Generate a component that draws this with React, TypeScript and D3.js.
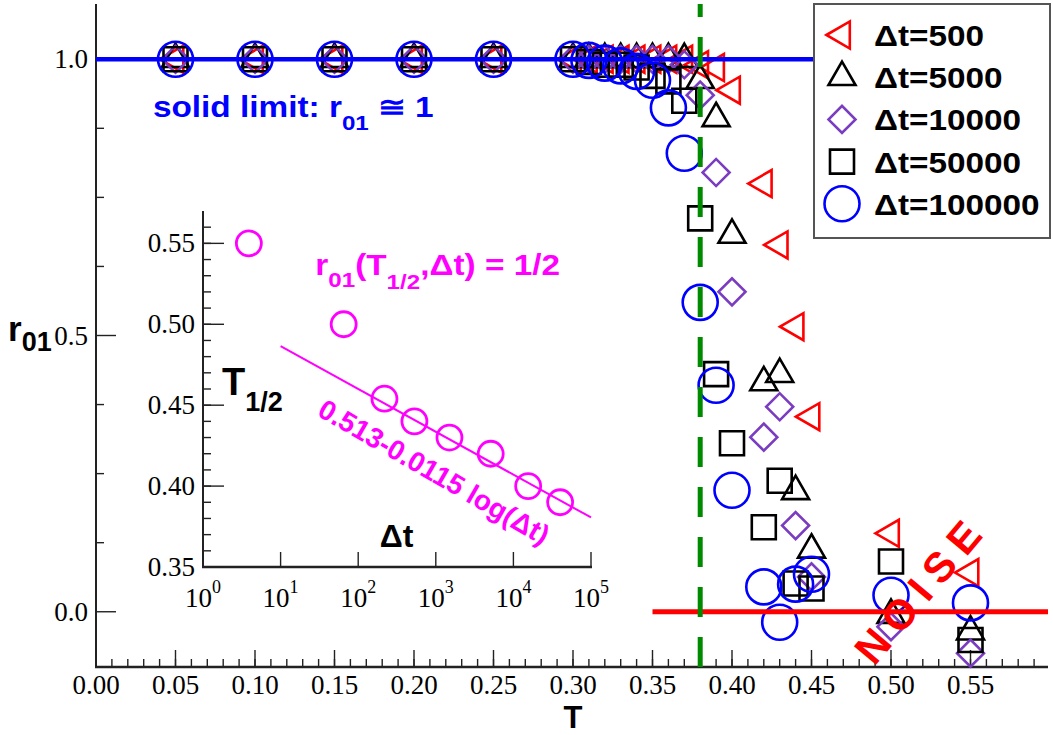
import * as d3 from "d3";

// main panel: r01 vs T, one series per waiting time
const temps = [0.05, 0.10, 0.15, 0.20, 0.25, 0.30, 0.31, 0.32, 0.33, 0.34, 0.35, 0.36, 0.37, 0.38, 0.39, 0.40, 0.42, 0.43, 0.44, 0.45, 0.50, 0.55];
const r500 = [1, 1, 1, 1, 1, 1, 1, 1, 1, 1, 1, 1, 1, 0.99, 0.985, 0.944, 0.775, 0.664, 0.516, 0.353, 0.142, 0.071];
const r5000 = [1, 1, 1, 1, 1, 1, 1, 1, 1, 1, 1, 1, 1, 0.962, 0.893, 0.682, 0.415, 0.43, 0.218, 0.112, -0.006, -0.036];
const r10000 = [1, 1, 1, 1, 1, 1, 1, 1, 1, 1, 1, 1, 0.99, 0.935, 0.795, 0.579, 0.316, 0.371, 0.156, 0.063, -0.027, -0.075];
const r50000 = [1, 1, 1, 1, 1, 1, 0.995, 0.99, 0.99, 0.985, 0.97, 0.96, 0.925, 0.712, 0.43, 0.305, 0.153, 0.237, 0.051, 0.042, 0.091, -0.051];
const r100000 = [1, 1, 1, 1, 1, 1, 0.998, 0.993, 0.988, 0.978, 0.962, 0.912, 0.83, 0.56, 0.41, 0.22, 0.045, -0.019, 0.05, 0.068, 0.03, 0.016];

const seriesLabels = ["\u0394t=500", "\u0394t=5000", "\u0394t=10000", "\u0394t=50000", "\u0394t=100000"];
const xTickLabels = ["0.00", "0.05", "0.10", "0.15", "0.20", "0.25", "0.30", "0.35", "0.40", "0.45", "0.50", "0.55"];
const yTickLabels = ["0.0", "0.5", "1.0"];

// inset: T_1/2 vs delta t
const insetDt = [3.9, 65, 218, 530, 1500, 5100, 15500, 40000];
const insetT = [0.55, 0.50, 0.454, 0.44, 0.43, 0.42, 0.40, 0.39];
const insetYTicks = ["0.35", "0.40", "0.45", "0.50", "0.55"];
const insetXExp = [0, 1, 2, 3, 4, 5];
const fitA = 0.513;
const fitB = 0.0115;
const fitRange = [10, 1e5];

const tSolid = 1.0;
const tNoise = 0.0;
const tCross = 0.38;

const SANS = "'Liberation Sans', Arial, Helvetica, sans-serif";
const SERIF = "'Liberation Serif', 'Times New Roman', serif";

const x = d3.scaleLinear().domain([0, 0.6]).range([96, 1050]);
const y = d3.scaleLinear().domain([-0.1, 1.1]).range([667, 4]);
const xi = d3.scaleLog().domain([1, 1e5]).range([203, 591]);
const yi = d3.scaleLinear().domain([0.35, 0.57]).range([567, 211]);

const styles = [
  { color: "#ff0000", kind: "left" },
  { color: "#000000", kind: "up" },
  { color: "#7a3cc0", kind: "diamond" },
  { color: "#000000", kind: "square" },
  { color: "#0000ff", kind: "circle" },
];
const seriesValues = [r500, r5000, r10000, r50000, r100000];

const triPath = d3.symbol(d3.symbolTriangle, 316)()!;
const sqPath = d3.symbol(d3.symbolSquare, 576)()!;
const diaPath = d3.symbol(d3.symbolSquare, 364)()!;

function Marker({ kind, cx, cy, color }: { kind: string; cx: number; cy: number; color: string }) {
  const common = { fill: "none", stroke: color, strokeWidth: 2.6 };
  if (kind === "circle") return <circle cx={cx} cy={cy} r={17.5} {...common} />;
  if (kind === "left") return <path d={triPath} transform={`translate(${cx},${cy}) rotate(-90)`} {...common} />;
  if (kind === "up") return <path d={triPath} transform={`translate(${cx},${cy})`} {...common} />;
  if (kind === "diamond") return <path d={diaPath} transform={`translate(${cx},${cy}) rotate(45)`} {...common} />;
  return <path d={sqPath} transform={`translate(${cx},${cy})`} {...common} />;
}

export default function App() {
  const xMinor = d3.range(1, 60).map(i => i / 100);
  const xMajor = d3.range(0, 12).map(i => i * 0.05);
  const yMinor = [0.125, 0.25, 0.375, 0.625, 0.75, 0.875];
  const yMajor = [0, 0.5, 1.0];
  const iyMinor = d3.range(0, 22).map(i => 0.35 + i * 0.01);
  const iyMajor = [0.35, 0.40, 0.45, 0.50, 0.55];

  const fitLine = d3.line<number>()
    .x(d => xi(d))
    .y(d => yi(fitA - fitB * Math.log(d)));

  return (
    <svg width={1053} height={735} style={{ position: "absolute", left: 0, top: 0, background: "#fff" }}>
      {/* main axes */}
      <line x1={x(0)} x2={x(0)} y1={y(1.1)} y2={y(-0.1) + 1} stroke="#222" strokeWidth={2} />
      <line x1={x(0) - 1} x2={1048} y1={y(-0.1)} y2={y(-0.1)} stroke="#222" strokeWidth={2.4} />
      {xMinor.map(v => (
        <line key={"xm" + v} x1={x(v)} x2={x(v)} y1={y(-0.1)} y2={y(-0.1) - 8} stroke="#222" strokeWidth={1.4} />
      ))}
      {xMajor.map(v => (
        <line key={"xM" + v} x1={x(v)} x2={x(v)} y1={y(-0.1)} y2={y(-0.1) - 17} stroke="#222" strokeWidth={1.4} />
      ))}
      {yMinor.map(v => (
        <line key={"ym" + v} x1={x(0)} x2={x(0) + 8} y1={y(v)} y2={y(v)} stroke="#222" strokeWidth={1.4} />
      ))}
      {yMajor.map(v => (
        <line key={"yM" + v} x1={x(0)} x2={x(0) + 20} y1={y(v)} y2={y(v)} stroke="#222" strokeWidth={1.4} />
      ))}
      {xTickLabels.map((t, i) => (
        <text key={"xl" + t} x={x(xMajor[i])} y={694} textAnchor="middle" fontFamily={SERIF} fontSize={27}>{t}</text>
      ))}
      {yTickLabels.map((t, i) => (
        <text key={"yl" + t} x={88} y={y(yMajor[i]) + 9} textAnchor="end" fontFamily={SERIF} fontSize={27}>{t}</text>
      ))}
      <text x={x(0.3)} y={728} textAnchor="middle" fontFamily={SANS} fontWeight="bold" fontSize={31}>T</text>
      <text x={8} y={341} fontFamily={SANS} fontWeight="bold" fontSize={35}>
        r<tspan fontSize={27} dy={10}>01</tspan>
      </text>

      {/* inset axes */}
      <line x1={xi(1)} x2={xi(1)} y1={yi(0.57)} y2={yi(0.35) + 1} stroke="#222" strokeWidth={2} />
      <line x1={xi(1) - 1} x2={xi(1e5) + 1} y1={yi(0.35)} y2={yi(0.35)} stroke="#222" strokeWidth={2.4} />
      {iyMinor.map(v => (
        <line key={"iym" + v} x1={xi(1)} x2={xi(1) + 8} y1={yi(v)} y2={yi(v)} stroke="#222" strokeWidth={1.4} />
      ))}
      {iyMajor.map(v => (
        <line key={"iyM" + v} x1={xi(1)} x2={xi(1) + 21} y1={yi(v)} y2={yi(v)} stroke="#222" strokeWidth={1.4} />
      ))}
      {insetXExp.map(e => (
        <line key={"ixM" + e} x1={xi(10 ** e)} x2={xi(10 ** e)} y1={yi(0.35)} y2={yi(0.35) - 15} stroke="#222" strokeWidth={1.4} />
      ))}
      {insetYTicks.map((t, i) => (
        <text key={"iyl" + t} x={195} y={yi(iyMajor[i]) + 9} textAnchor="end" fontFamily={SERIF} fontSize={27}>{t}</text>
      ))}
      {insetXExp.map(e => (
        <text key={"ixl" + e} x={xi(10 ** e)} y={607} textAnchor="middle" fontFamily={SERIF} fontSize={27}>
          10<tspan fontSize={18} dy={-14}>{e}</tspan>
        </text>
      ))}

      {/* inset data */}
      <path d={fitLine(fitRange)!} fill="none" stroke="#ff00ff" strokeWidth={2} />
      {insetDt.map((d, i) => (
        <circle key={"ic" + i} cx={xi(d)} cy={yi(insetT[i])} r={12.5} fill="none" stroke="#ff00ff" strokeWidth={2.8} />
      ))}
      <text transform={`translate(${xi(28)},${yi(0.5304)}) scale(1.15,1)`} fill="#ff00ff" fontFamily={SANS} fontWeight="bold" fontSize={29}>
        r<tspan fontSize={21} dy={12}>01</tspan>
        <tspan dy={-12}>(T</tspan>
        <tspan fontSize={21} dy={14}>1/2</tspan>
        <tspan dy={-14}>,{"\u0394"}t) = 1/2</tspan>
      </text>
      <text x={xi(1.76)} y={yi(0.4563)} fontFamily={SANS} fontWeight="bold" fontSize={38}>
        T<tspan fontSize={27} dy={16}>1/2</tspan>
      </text>
      <text x={xi(190)} y={yi(0.3624)} fontFamily={SANS} fontWeight="bold" fontSize={32}>{"\u0394"}t</text>
      <text
        transform={`translate(${xi(948)},${yi(0.4087)}) rotate(30)`}
        textAnchor="middle" dominantBaseline="central"
        fill="#ff00ff" fontFamily={SANS} fontWeight="bold" fontSize={28}
      >
        0.513-0.0115 log({"\u0394"}t)
      </text>

      {/* main data */}
      {seriesValues.map((vals, s) =>
        vals.map((v, i) => (
          <Marker key={`m${s}-${i}`} kind={styles[s].kind} color={styles[s].color} cx={x(temps[i])} cy={y(v)} />
        ))
      )}

      {/* reference lines */}
      <line x1={x(0)} x2={1048} y1={y(tSolid)} y2={y(tSolid)} stroke="#0000ff" strokeWidth={4.5} />
      <line x1={x(0.35)} x2={1048} y1={y(tNoise)} y2={y(tNoise)} stroke="#ff0000" strokeWidth={5} />
      <line x1={x(tCross)} x2={x(tCross)} y1={y(-0.1)} y2={y(1.1)} stroke="#008a00" strokeWidth={5} strokeDasharray="30 20" />

      <text transform={`translate(${x(0.0358)},${y(0.895)}) scale(1.15,1)`} fill="#0000ff" fontFamily={SANS} fontWeight="bold" fontSize={29}>
        solid limit: r<tspan fontSize={21} dy={13}>01</tspan>
        <tspan dy={-13}> {"\u2245"} 1</tspan>
      </text>
      <text
        transform={`translate(${x(0.519)},${y(0.042)}) rotate(-50)`}
        textAnchor="middle" dominantBaseline="central"
        fill="#ff0000" fontFamily={SANS} fontWeight="bold" fontSize={42} letterSpacing={10}
      >
        NOISE
      </text>

      {/* legend */}
      <rect x={814} y={4} width={236} height={234} fill="#fff" stroke="#555" strokeWidth={2} />
      {seriesLabels.map((lab, i) => {
        const cy = 35 + i * 42.2;
        return (
          <g key={"lg" + i}>
            <Marker kind={styles[i].kind} color={styles[i].color} cx={842} cy={cy} />
            <text transform={`translate(874,${cy + 11}) scale(1.11,1)`} fontFamily={SANS} fontWeight="bold" fontSize={30}>{lab}</text>
          </g>
        );
      })}
    </svg>
  );
}
